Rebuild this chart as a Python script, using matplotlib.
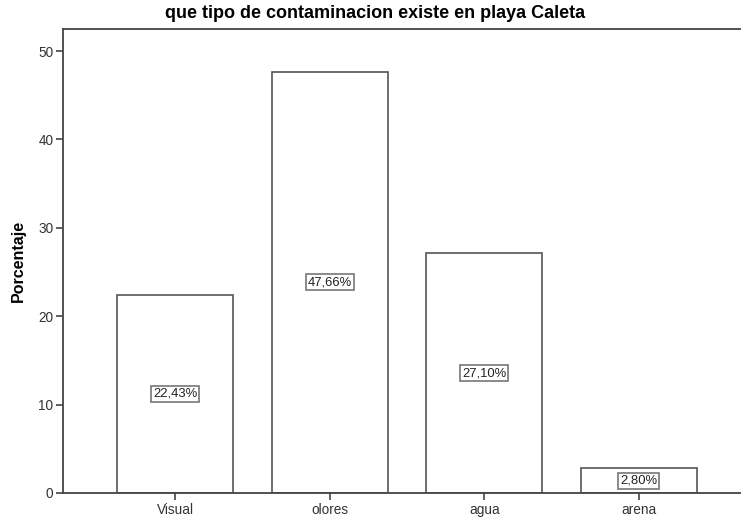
import matplotlib
matplotlib.use("Agg")
import matplotlib.pyplot as plt

categories = ["Visual", "olores", "agua", "arena"]
values = [22.43, 47.66, 27.10, 2.80]
labels = ["22,43%", "47,66%", "27,10%", "2,80%"]
yticks = [0, 10, 20, 30, 40, 50]

plt.rcParams['font.family'] = ['Liberation Sans', 'DejaVu Sans']

fig = plt.figure(figsize=(7.41, 5.21), dpi=100)
ax = fig.add_axes([63/741, 28/521, 678/741, 464/521])

x = list(range(len(categories)))
ax.bar(x, values, width=0.75, facecolor='white', edgecolor='#555555', linewidth=1.2, zorder=2)
for xi, v, lab in zip(x, values, labels):
    ax.text(xi, v/2, lab, ha='center', va='center', fontsize=9.4, color='#222222', zorder=3,
            bbox=dict(boxstyle='square,pad=0.15', facecolor='white', edgecolor='#777777', linewidth=1.2))

ax.set_xlim(-0.725, 3.66)
ax.set_ylim(0, 52.5)
ax.set_xticks(x)
ax.set_xticklabels(categories, fontsize=9.8, color='#333333')
ax.set_yticks(yticks)
ax.set_yticklabels([str(t) for t in yticks], fontsize=9.8, color='#333333')
ax.tick_params(direction='out', length=5, width=1.2, color='#444444', pad=2)
for s in ['left', 'bottom', 'top']:
    ax.spines[s].set_color('#444444')
    ax.spines[s].set_linewidth(1.3)
ax.spines['right'].set_visible(False)
ax.set_ylabel('Porcentaje', fontsize=11.5, fontweight='bold', labelpad=9)
fig.text(375/741, 1 - 14/521, 'que tipo de contaminacion existe en playa Caleta', ha='center', va='center',
         fontsize=13, fontweight='bold')

fig.savefig('out.png', dpi=100)
